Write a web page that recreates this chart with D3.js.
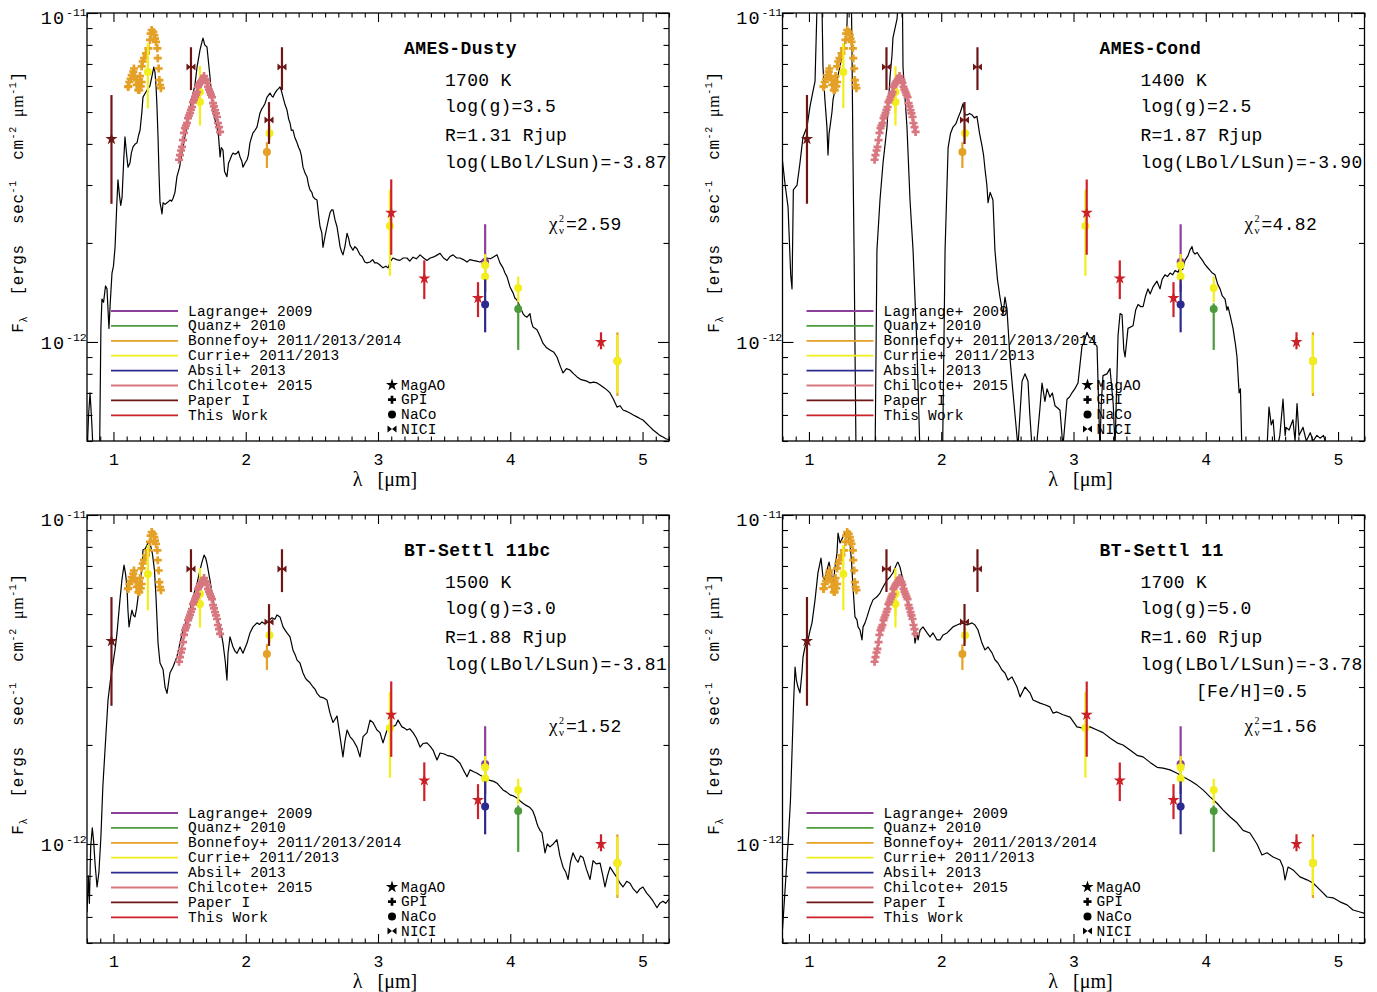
<!DOCTYPE html>
<html><head><meta charset="utf-8">
<script src="https://cdn.jsdelivr.net/npm/d3@7"></script>
<style>body{margin:0;background:#fff}svg{display:block}text{white-space:pre}</style>
</head><body>
<svg id="c" width="1377" height="992"></svg>
<script>
// ---------------- DATA (flux in units of 1e-12 erg s^-1 cm^-2 um^-1) ----------------
const dustySpec=[[0.800,0.45],[0.812,0.60],[0.823,0.70],[0.835,0.58],[0.848,0.45],[0.895,0.45],[0.905,1.10],[0.913,1.35],[0.925,1.32],[0.940,1.48],[0.951,1.45],[0.966,1.10],[0.975,1.30],[0.989,1.62],[1.000,1.70],[1.012,1.94],[1.025,2.6],[1.034,3.11],[1.045,2.8],[1.055,2.6],[1.065,2.75],[1.078,3.6],[1.087,4.20],[1.100,3.7],[1.110,3.40],[1.125,3.5],[1.135,3.75],[1.148,3.92],[1.165,4.0],[1.178,4.03],[1.190,4.25],[1.201,4.4],[1.215,5.0],[1.223,5.55],[1.240,5.7],[1.254,5.83],[1.276,6.0],[1.290,6.4],[1.305,6.85],[1.314,6.6],[1.322,6.0],[1.329,5.2],[1.337,4.2],[1.345,3.2],[1.352,2.65],[1.360,2.55],[1.367,2.45],[1.375,2.65],[1.390,2.62],[1.405,2.65],[1.420,2.68],[1.427,2.70],[1.440,2.68],[1.450,2.73],[1.465,2.85],[1.480,3.18],[1.500,3.4],[1.518,3.75],[1.540,4.2],[1.556,4.5],[1.575,5.0],[1.594,5.55],[1.615,6.0],[1.632,6.85],[1.654,7.71],[1.670,8.2],[1.677,8.39],[1.690,8.0],[1.707,7.88],[1.720,7.0],[1.730,6.39],[1.742,5.6],[1.753,5.07],[1.770,4.7],[1.783,4.50],[1.795,4.2],[1.806,3.65],[1.815,3.9],[1.828,3.83],[1.840,3.3],[1.858,3.18],[1.870,3.5],[1.881,3.58],[1.895,3.7],[1.904,3.75],[1.920,3.72],[1.934,3.75],[1.945,3.8],[1.957,3.65],[1.970,3.55],[1.979,3.40],[1.995,3.5],[2.010,3.58],[2.020,3.7],[2.032,4.03],[2.045,4.2],[2.055,4.32],[2.070,4.4],[2.085,4.50],[2.100,4.8],[2.108,4.97],[2.120,5.1],[2.131,5.18],[2.145,5.3],[2.161,5.55],[2.184,5.71],[2.195,5.6],[2.206,5.55],[2.220,5.7],[2.236,5.83],[2.250,5.9],[2.259,5.96],[2.270,5.8],[2.282,5.55],[2.295,5.3],[2.312,5.07],[2.325,4.75],[2.335,4.63],[2.345,4.4],[2.357,4.41],[2.370,4.2],[2.388,4.03],[2.400,3.9],[2.410,3.83],[2.420,3.7],[2.433,3.40],[2.450,3.25],[2.463,3.18],[2.475,3.0],[2.486,2.90],[2.500,2.85],[2.509,2.76],[2.525,2.72],[2.539,2.70],[2.550,2.45],[2.562,2.24],[2.575,2.15],[2.584,1.94],[2.600,2.1],[2.614,2.24],[2.625,2.35],[2.637,2.47],[2.650,2.52],[2.660,2.52],[2.675,2.35],[2.690,2.24],[2.705,2.05],[2.713,1.95],[2.725,1.88],[2.735,1.84],[2.750,1.95],[2.766,2.14],[2.780,2.05],[2.788,1.97],[2.811,1.90],[2.825,1.95],[2.841,1.92],[2.864,1.84],[2.880,1.82],[2.900,1.75],[2.917,1.74],[2.940,1.75],[2.960,1.78],[2.975,1.74],[2.992,1.74],[3.010,1.72],[3.038,1.68],[3.060,1.70],[3.076,1.68],[3.095,1.76],[3.113,1.80],[3.140,1.78],[3.166,1.77],[3.190,1.80],[3.219,1.80],[3.240,1.76],[3.265,1.81],[3.290,1.79],[3.318,1.84],[3.345,1.80],[3.370,1.77],[3.395,1.80],[3.416,1.81],[3.440,1.83],[3.469,1.86],[3.495,1.80],[3.522,1.77],[3.545,1.82],[3.567,1.84],[3.595,1.80],[3.620,1.80],[3.645,1.78],[3.673,1.75],[3.695,1.78],[3.718,1.77],[3.745,1.76],[3.771,1.75],[3.800,1.78],[3.824,1.80],[3.850,1.79],[3.870,1.81],[3.900,1.84],[3.922,1.74],[3.945,1.68],[3.960,1.62],[3.975,1.58],[3.998,1.47],[4.021,1.41],[4.035,1.36],[4.051,1.34],[4.074,1.28],[4.096,1.22],[4.110,1.20],[4.127,1.19],[4.149,1.22],[4.160,1.15],[4.172,1.11],[4.202,1.09],[4.225,1.04],[4.248,0.99],[4.275,0.96],[4.300,0.946],[4.330,0.93],[4.353,0.90],[4.380,0.84],[4.399,0.805],[4.425,0.83],[4.451,0.822],[4.480,0.80],[4.505,0.783],[4.530,0.77],[4.550,0.766],[4.580,0.76],[4.603,0.751],[4.630,0.755],[4.656,0.751],[4.680,0.74],[4.701,0.730],[4.730,0.715],[4.754,0.70],[4.780,0.67],[4.807,0.634],[4.830,0.64],[4.852,0.621],[4.880,0.615],[4.905,0.608],[4.930,0.60],[4.958,0.592],[4.980,0.585],[5.003,0.579],[5.030,0.565],[5.056,0.552],[5.080,0.54],[5.109,0.529],[5.130,0.52],[5.155,0.514],[5.175,0.508],[5.200,0.505]];

const condSpec=[[0.800,3.55],[0.820,3.0],[0.842,2.57],[0.862,1.6],[0.872,1.45],[0.882,2.9],[0.910,3.0],[0.932,3.5],[0.955,4.2],[0.985,4.5],[1.008,5.2],[1.031,5.8],[1.046,6.2],[1.055,8.5],[1.061,10.5],[1.068,13],[1.095,13],[1.106,6.85],[1.120,5.5],[1.136,4.5],[1.144,3.7],[1.152,4.3],[1.159,4.5],[1.174,5.0],[1.182,5.45],[1.212,6.25],[1.235,6.9],[1.257,7.7],[1.280,8.5],[1.288,9.3],[1.295,13],[1.318,13],[1.325,8.0],[1.333,3.6],[1.341,1.9],[1.356,0.45],[1.500,0.45],[1.514,1.9],[1.537,2.7],[1.560,3.5],[1.590,4.5],[1.613,6.4],[1.628,7.45],[1.635,8.4],[1.666,9.6],[1.688,13],[1.705,13],[1.711,6.85],[1.741,4.5],[1.764,2.7],[1.787,1.9],[1.815,1.0],[1.840,0.45],[2.010,0.45],[2.029,1.9],[2.052,3.9],[2.070,4.3],[2.089,4.5],[2.110,4.6],[2.127,4.8],[2.145,5.0],[2.165,5.3],[2.180,4.9],[2.195,4.9],[2.215,4.95],[2.233,4.9],[2.250,4.8],[2.270,4.85],[2.290,4.3],[2.308,3.95],[2.320,3.7],[2.331,3.35],[2.345,3.0],[2.354,2.65],[2.370,2.85],[2.391,2.7],[2.406,1.9],[2.425,1.55],[2.444,1.37],[2.467,1.21],[2.482,1.37],[2.497,1.26],[2.520,0.89],[2.540,0.72],[2.558,0.60],[2.580,0.48],[2.595,0.6],[2.611,0.76],[2.633,0.80],[2.656,0.76],[2.670,0.6],[2.686,0.48],[2.720,0.48],[2.745,0.62],[2.762,0.75],[2.784,0.66],[2.800,0.72],[2.822,0.68],[2.840,0.70],[2.860,0.64],[2.880,0.63],[2.898,0.62],[2.920,0.48],[2.951,0.67],[2.970,0.68],[2.988,0.70],[3.010,0.72],[3.034,0.75],[3.064,0.97],[3.080,1.0],[3.102,1.07],[3.120,1.03],[3.140,1.03],[3.160,0.99],[3.178,0.97],[3.195,0.55],[3.200,0.48],[3.210,0.65],[3.223,0.79],[3.253,0.80],[3.276,0.83],[3.300,0.65],[3.314,0.48],[3.325,0.7],[3.337,1.05],[3.352,1.22],[3.367,1.21],[3.380,0.95],[3.390,0.90],[3.412,1.10],[3.450,1.12],[3.470,1.25],[3.488,1.30],[3.510,1.28],[3.526,1.28],[3.545,1.38],[3.563,1.45],[3.580,1.40],[3.601,1.47],[3.631,1.53],[3.654,1.45],[3.670,1.55],[3.692,1.60],[3.710,1.58],[3.730,1.62],[3.750,1.60],[3.768,1.65],[3.790,1.63],[3.805,1.68],[3.825,1.66],[3.843,1.77],[3.866,1.83],[3.880,1.90],[3.896,1.95],[3.905,1.88],[3.919,1.85],[3.935,1.87],[3.957,1.81],[3.975,1.77],[3.994,1.72],[4.010,1.69],[4.032,1.65],[4.050,1.62],[4.070,1.60],[4.090,1.50],[4.108,1.45],[4.125,1.38],[4.146,1.35],[4.160,1.25],[4.168,1.28],[4.185,1.20],[4.206,1.10],[4.225,0.98],[4.236,0.90],[4.252,0.70],[4.262,0.72],[4.274,0.45],[4.460,0.45],[4.478,0.634],[4.495,0.56],[4.509,0.58],[4.530,0.45],[4.560,0.52],[4.584,0.67],[4.600,0.52],[4.607,0.55],[4.630,0.54],[4.659,0.58],[4.675,0.50],[4.690,0.65],[4.705,0.52],[4.735,0.55],[4.760,0.50],[4.790,0.53],[4.811,0.50],[4.840,0.52],[4.864,0.51],[4.890,0.52],[4.917,0.48],[4.950,0.45],[5.200,0.45]];

const settlBcSpec=[[0.800,0.62],[0.810,0.80],[0.818,0.66],[0.828,0.98],[0.840,1.12],[0.850,1.02],[0.862,0.86],[0.876,0.74],[0.890,0.82],[0.905,1.05],[0.920,1.50],[0.940,2.05],[0.959,2.74],[0.975,3.1],[0.997,3.55],[1.012,3.9],[1.027,4.38],[1.049,5.51],[1.065,6.4],[1.080,7.04],[1.092,6.6],[1.102,6.04],[1.110,5.1],[1.118,4.57],[1.130,4.9],[1.140,5.14],[1.152,4.95],[1.163,4.90],[1.175,5.2],[1.186,5.63],[1.200,6.2],[1.216,6.94],[1.223,7.83],[1.240,7.9],[1.254,8.11],[1.268,8.3],[1.280,8.1],[1.295,7.6],[1.310,6.8],[1.322,5.6],[1.337,4.08],[1.352,3.55],[1.375,3.39],[1.390,3.0],[1.405,2.87],[1.427,3.31],[1.450,3.45],[1.480,3.71],[1.503,4.08],[1.526,4.48],[1.556,4.81],[1.579,5.14],[1.601,5.63],[1.632,6.2],[1.654,6.8],[1.670,7.2],[1.685,7.55],[1.697,7.4],[1.707,7.13],[1.730,6.33],[1.753,5.51],[1.783,4.90],[1.806,4.57],[1.828,4.08],[1.845,3.6],[1.858,3.15],[1.866,3.8],[1.881,4.26],[1.904,3.97],[1.920,3.85],[1.934,3.80],[1.957,3.97],[1.979,3.80],[2.010,4.08],[2.032,4.38],[2.055,4.57],[2.085,4.70],[2.105,4.65],[2.123,4.73],[2.140,4.68],[2.161,4.73],[2.180,4.80],[2.199,4.87],[2.220,4.82],[2.236,4.97],[2.259,4.90],[2.282,4.57],[2.300,4.45],[2.312,4.38],[2.335,4.26],[2.357,3.89],[2.375,3.75],[2.388,3.62],[2.410,3.55],[2.433,3.31],[2.450,3.2],[2.463,3.15],[2.486,3.09],[2.509,3.0],[2.525,2.95],[2.539,2.87],[2.562,2.80],[2.590,2.78],[2.614,2.74],[2.637,2.50],[2.660,2.34],[2.690,2.45],[2.713,2.12],[2.735,1.84],[2.750,2.05],[2.766,2.22],[2.788,2.12],[2.811,2.07],[2.841,1.97],[2.864,1.84],[2.887,2.12],[2.917,2.18],[2.940,2.38],[2.962,2.34],[2.992,2.22],[3.015,2.18],[3.038,2.03],[3.068,2.22],[3.091,2.25],[3.113,2.27],[3.135,2.30],[3.151,2.38],[3.181,2.27],[3.200,2.25],[3.219,2.22],[3.240,2.24],[3.265,2.18],[3.290,2.10],[3.318,1.97],[3.340,2.02],[3.370,2.03],[3.395,1.98],[3.416,1.93],[3.446,1.80],[3.469,1.89],[3.495,1.88],[3.522,1.86],[3.545,1.85],[3.567,1.84],[3.595,1.80],[3.620,1.76],[3.645,1.68],[3.673,1.60],[3.696,1.68],[3.720,1.66],[3.749,1.64],[3.770,1.62],[3.794,1.60],[3.820,1.58],[3.847,1.56],[3.875,1.55],[3.900,1.53],[3.920,1.50],[3.945,1.46],[3.970,1.44],[3.998,1.41],[4.025,1.40],[4.051,1.38],[4.075,1.35],[4.096,1.33],[4.120,1.31],[4.149,1.29],[4.170,1.26],[4.187,1.21],[4.200,1.16],[4.210,1.13],[4.225,1.10],[4.240,1.08],[4.263,0.94],[4.280,1.0],[4.300,0.98],[4.325,1.0],[4.353,1.03],[4.375,0.92],[4.399,0.85],[4.420,0.82],[4.437,0.78],[4.455,0.88],[4.474,0.94],[4.495,0.90],[4.512,0.88],[4.530,0.92],[4.550,0.91],[4.575,0.84],[4.603,0.78],[4.626,0.89],[4.650,0.87],[4.679,0.875],[4.700,0.80],[4.716,0.74],[4.735,0.80],[4.754,0.85],[4.780,0.82],[4.807,0.79],[4.830,0.76],[4.852,0.74],[4.880,0.77],[4.905,0.76],[4.930,0.73],[4.958,0.71],[4.980,0.73],[5.003,0.74],[5.030,0.71],[5.056,0.69],[5.080,0.67],[5.109,0.64],[5.130,0.66],[5.155,0.67],[5.175,0.66],[5.200,0.68]];

const settlSpec=[[0.800,0.55],[0.815,0.68],[0.830,0.85],[0.845,1.05],[0.860,1.35],[0.872,1.9],[0.884,2.7],[0.895,3.45],[0.905,3.15],[0.917,3.0],[0.932,2.88],[0.947,3.31],[0.955,3.70],[0.970,3.97],[0.993,4.17],[1.008,4.45],[1.023,4.70],[1.046,5.52],[1.068,6.67],[1.091,7.40],[1.106,6.48],[1.121,6.34],[1.136,6.80],[1.152,7.19],[1.174,6.48],[1.182,6.04],[1.197,6.95],[1.212,7.66],[1.220,8.81],[1.235,8.22],[1.257,8.57],[1.275,8.9],[1.288,8.81],[1.310,8.22],[1.322,7.2],[1.333,6.04],[1.348,4.90],[1.363,4.80],[1.371,4.57],[1.386,4.47],[1.401,4.17],[1.409,4.57],[1.424,4.70],[1.439,4.90],[1.462,5.25],[1.484,5.52],[1.514,5.64],[1.537,5.79],[1.560,6.04],[1.590,6.34],[1.613,6.48],[1.635,6.67],[1.666,7.14],[1.673,7.19],[1.688,6.95],[1.711,6.34],[1.741,5.52],[1.764,4.90],[1.787,4.70],[1.802,4.08],[1.817,4.38],[1.825,4.17],[1.840,4.47],[1.862,4.57],[1.893,4.38],[1.915,4.26],[1.938,4.38],[1.968,4.17],[1.991,4.17],[2.014,4.32],[2.044,4.38],[2.066,4.47],[2.089,4.57],[2.119,4.63],[2.157,4.70],[2.195,4.63],[2.233,4.70],[2.255,4.63],[2.278,4.47],[2.308,4.08],[2.331,3.89],[2.354,3.97],[2.384,3.81],[2.406,3.63],[2.429,3.55],[2.459,3.38],[2.482,3.31],[2.505,3.15],[2.535,3.22],[2.573,3.0],[2.596,2.80],[2.633,3.0],[2.671,2.88],[2.694,2.74],[2.747,2.68],[2.784,2.65],[2.822,2.61],[2.845,2.50],[2.875,2.52],[2.921,2.47],[2.974,2.43],[3.026,2.27],[3.072,2.25],[3.125,2.27],[3.178,2.22],[3.223,2.18],[3.276,2.10],[3.329,2.03],[3.374,2.00],[3.427,1.93],[3.480,1.86],[3.526,1.84],[3.579,1.77],[3.632,1.71],[3.677,1.70],[3.730,1.68],[3.783,1.64],[3.828,1.60],[3.881,1.56],[3.934,1.51],[3.979,1.46],[4.032,1.39],[4.085,1.33],[4.130,1.27],[4.183,1.21],[4.236,1.16],[4.282,1.10],[4.334,1.08],[4.387,1.0],[4.425,0.926],[4.463,0.94],[4.509,0.913],[4.561,0.894],[4.584,0.851],[4.599,0.778],[4.622,0.851],[4.660,0.834],[4.712,0.794],[4.765,0.778],[4.811,0.761],[4.864,0.725],[4.917,0.690],[4.962,0.686],[5.015,0.667],[5.068,0.653],[5.113,0.630],[5.166,0.621],[5.200,0.615]];

// photometry: [lambda, flux, fluxLow, fluxHigh, instrument]
const lagrangePhot=[[3.81,1.75,1.42,2.28,"NaCo"]];
const quanzPhot=[[4.06,1.26,0.946,1.31,"NaCo"]];
const bonnefoyPhot=[[2.16,3.78,3.38,4.05,"NaCo"],[4.81,0.875,0.685,1.07,"NaCo"]];
const curriePhot=[[1.26,6.62,5.13,8.1,"NaCo"],[1.654,5.75,4.95,6.9,"NaCo"],[1.654,5.36,4.55,6.2,"NaCo"],[2.18,4.31,4.1,4.55,"NaCo"],[3.09,2.25,1.59,2.9,"NaCo"],[3.81,1.71,1.6,1.85,"NaCo"],[3.81,1.58,1.5,1.68,"NaCo"],[4.06,1.46,1.32,1.58,"NaCo"],[4.81,0.875,0.70,1.05,"NaCo"]];
const absilPhot=[[3.81,1.30,1.07,1.55,"NaCo"]];
const paperIPhot=[[0.985,4.14,2.63,5.63,"MagAO"],[1.586,6.85,5.83,7.87,"NICI"],[2.176,4.73,4.0,5.36,"NICI"],[2.274,6.85,5.83,7.87,"NICI"]];
const thisWorkPhot=[[3.10,2.47,1.84,3.12,"MagAO"],[3.35,1.56,1.35,1.77,"MagAO"],[3.756,1.36,1.19,1.52,"MagAO"],[4.686,1.0,0.95,1.07,"MagAO"]];
// GPI spectra
const bonnefoyGPI=[[1.110,5.96],[1.112,5.98],[1.120,6.17],[1.130,6.31],[1.138,6.47],[1.150,6.63],[1.155,6.78],[1.163,6.39],[1.176,6.25],[1.176,6.04],[1.188,6.09],[1.188,5.83],[1.195,5.83],[1.201,6.43],[1.206,5.98],[1.213,6.17],[1.213,6.88],[1.221,7.12],[1.231,7.29],[1.246,7.54],[1.264,7.81],[1.276,8.28],[1.281,8.66],[1.289,8.88],[1.301,8.76],[1.309,8.57],[1.314,8.36],[1.322,8.17],[1.332,7.81],[1.335,7.29],[1.342,6.78],[1.347,6.25],[1.352,6.04],[1.359,5.91]];
const chilcoteGPI=[[1.496,3.58],[1.503,3.70],[1.511,3.82],[1.518,3.92],[1.526,4.11],[1.533,4.32],[1.541,4.47],[1.548,4.55],[1.556,4.63],[1.564,4.79],[1.571,4.88],[1.579,4.97],[1.586,5.08],[1.594,5.18],[1.601,5.36],[1.609,5.45],[1.617,5.55],[1.624,5.65],[1.632,5.75],[1.639,5.96],[1.647,6.05],[1.654,6.13],[1.662,6.2],[1.669,6.25],[1.677,6.33],[1.685,6.43],[1.692,6.29],[1.700,6.25],[1.707,6.13],[1.715,5.96],[1.722,5.85],[1.730,5.75],[1.737,5.65],[1.745,5.55],[1.753,5.32],[1.760,5.2],[1.768,5.07],[1.775,4.95],[1.783,4.83],[1.790,4.63],[1.798,4.5],[1.806,4.35]];

const modelNames=["AMES-Dusty","AMES-Cond","BT-Settl 11bc","BT-Settl 11"];
const teffLabels=["1700 K","1400 K","1500 K","1700 K"];
const loggLabels=["log(g)=3.5","log(g)=2.5","log(g)=3.0","log(g)=5.0"];
const radiusLabels=["R=1.31 Rjup","R=1.87 Rjup","R=1.88 Rjup","R=1.60 Rjup"];
const lbolLabels=["log(LBol/LSun)=-3.87","log(LBol/LSun)=-3.90","log(LBol/LSun)=-3.81","log(LBol/LSun)=-3.78"];
const fehLabels=["","","","[Fe/H]=0.5"];
const chi2Labels=["2.59","4.82","1.52","1.56"];

const xTicksMajor=[1,2,3,4,5];
const xTickLabels=["1","2","3","4","5"];
const yTicksMajor=[1,10];
const yTickLabels=[["10","-12"],["10","-11"]];
const yTicksMinor=[0.5,0.6,0.7,0.8,0.9,2,3,4,5,6,7,8,9];

const legendLabels=["Lagrange+ 2009","Quanz+ 2010","Bonnefoy+ 2011/2013/2014","Currie+ 2011/2013","Absil+ 2013","Chilcote+ 2015","Paper I","This Work"];
const legendColors=["#8e3f9c","#4b9b3d","#e4a126","#f2ee1c","#2c2a8e","#d8777f","#6e1616","#cc2129"];
const instrumentLabels=["MagAO","GPI","NaCo","NICI"];

// ---------------- DRAWING ----------------
const MONO="'Liberation Mono','DejaVu Sans Mono',monospace";
const SERIF="'Liberation Serif','DejaVu Serif',serif";
const PW=582, PH=428;
const origins=[[87,13],[782.5,13],[87,515],[782.5,515]];
const spectra=[dustySpec,condSpec,settlBcSpec,settlSpec];
const svg=d3.select("#c");

const bowtie="M-4.5,-3.5L0,0L-4.5,3.5ZM4.5,-3.5L0,0L4.5,3.5Z";
function marker(sel,inst,color){
  if(inst==="MagAO") sel.append("path").attr("d",d3.symbol(d3.symbolStar,46)()).attr("fill",color);
  else if(inst==="NICI") sel.append("path").attr("d",bowtie).attr("fill",color);
  else if(inst==="GPI") sel.append("path").attr("d",d3.symbol(d3.symbolCross,36)()).attr("fill",color);
  else sel.append("circle").attr("r",4).attr("fill",color);
}

origins.forEach((o,i)=>{
  const g=svg.append("g").attr("transform",`translate(${o[0]},${o[1]})`);
  const x=d3.scaleLinear().domain([0.8,5.2]).range([0,PW]);
  const y=d3.scaleLog().domain([0.5,10]).range([PH,0]);
  const cid="clip"+i;
  g.append("clipPath").attr("id",cid).append("rect").attr("width",PW).attr("height",PH);
  const inner=g.append("g").attr("clip-path",`url(#${cid})`);

  // model spectrum
  inner.append("path").datum(spectra[i])
    .attr("d",d3.line().x(d=>x(d[0])).y(d=>y(d[1])))
    .attr("fill","none").attr("stroke","#000").attr("stroke-width",1.2).attr("stroke-linejoin","round");

  const sets=[[lagrangePhot,0],[quanzPhot,1],[bonnefoyPhot,2],[curriePhot,3],[absilPhot,4],[paperIPhot,6],[thisWorkPhot,7]];
  const drawPoint=(d,col)=>{
    inner.append("line").attr("x1",x(d[0])).attr("x2",x(d[0])).attr("y1",y(d[2])).attr("y2",y(d[3]))
      .attr("stroke",col).attr("stroke-width",2.2);
    const m=inner.append("g").attr("transform",`translate(${x(d[0])},${y(d[1])})`);
    marker(m,d[4],col);
  };
  sets.slice(0,3).forEach(([arr,ci])=>arr.forEach(d=>drawPoint(d,legendColors[ci])));
  bonnefoyGPI.forEach(d=>{
    const m=inner.append("g").attr("transform",`translate(${x(d[0])},${y(d[1])})`);
    marker(m,"GPI",legendColors[2]);
  });
  sets.slice(3,5).forEach(([arr,ci])=>arr.forEach(d=>drawPoint(d,legendColors[ci])));
  chilcoteGPI.forEach(d=>{
    const m=inner.append("g").attr("transform",`translate(${x(d[0])},${y(d[1])})`);
    marker(m,"GPI",legendColors[5]);
  });
  sets.slice(5).forEach(([arr,ci])=>arr.forEach(d=>drawPoint(d,legendColors[ci])));

  // axes (ticks inward)
  const xMinor=d3.range(8,53).map(v=>v/10).filter(v=>!xTicksMajor.includes(v));
  const strip=s=>s.select(".domain").remove();
  g.append("g").attr("transform",`translate(0,${PH})`).call(d3.axisBottom(x).tickValues(xMinor).tickSize(-4.5).tickFormat("")).call(strip);
  g.append("g").call(d3.axisTop(x).tickValues(xMinor).tickSize(-4.5).tickFormat("")).call(strip);
  g.append("g").call(d3.axisTop(x).tickValues(xTicksMajor).tickSize(-9).tickFormat("")).call(strip);
  const xb=g.append("g").attr("transform",`translate(0,${PH})`)
    .call(d3.axisBottom(x).tickValues(xTicksMajor).tickSize(-9).tickPadding(12).tickFormat((d,k)=>xTickLabels[k])).call(strip);
  xb.selectAll("text").attr("font-family",MONO).attr("font-size",16.5).attr("fill","#000");
  g.append("g").call(d3.axisLeft(y).tickValues(yTicksMinor).tickSize(-5.5).tickFormat("")).call(strip);
  g.append("g").attr("transform",`translate(${PW},0)`).call(d3.axisRight(y).tickValues(yTicksMinor).tickSize(-5.5).tickFormat("")).call(strip);
  g.append("g").call(d3.axisLeft(y).tickValues(yTicksMajor).tickSize(-11).tickFormat("")).call(strip);
  g.append("g").attr("transform",`translate(${PW},0)`).call(d3.axisRight(y).tickValues(yTicksMajor).tickSize(-11).tickFormat("")).call(strip);
  g.selectAll(".tick line").attr("stroke","#000").attr("stroke-width",1.1);

  yTicksMajor.forEach((v,k)=>{
    const yy=Math.max(y(v),4)+7;
    g.append("text").attr("x",-22).attr("y",yy).attr("text-anchor","end")
      .attr("font-family",MONO).attr("font-size",18.5).attr("letter-spacing",1).text(yTickLabels[k][0]);
    g.append("text").attr("x",-21).attr("y",yy-8).attr("font-family",MONO).attr("font-size",11.5).text(yTickLabels[k][1]);
  });

  g.append("rect").attr("width",PW).attr("height",PH).attr("fill","none").attr("stroke","#000").attr("stroke-width",1.3);

  // axis titles
  const yt=g.append("text").attr("transform",`translate(-64,${PH/2-25}) rotate(-90)`).attr("text-anchor","middle")
    .attr("font-family",MONO).attr("font-size",16).attr("letter-spacing",0.6);
  yt.append("tspan").text("F");
  yt.append("tspan").attr("font-size",10).attr("dy",4).text("λ");
  yt.append("tspan").attr("dy",-4).text("  [ergs  sec");
  yt.append("tspan").attr("font-size",10).attr("dy",-7).text("-1");
  yt.append("tspan").attr("dy",7).text("  cm");
  yt.append("tspan").attr("font-size",10).attr("dy",-7).text("-2");
  yt.append("tspan").attr("dy",7).attr("font-family",SERIF).text("  μm");
  yt.append("tspan").attr("font-size",10).attr("dy",-7).text("-1");
  yt.append("tspan").attr("dy",7).text("]");

  g.append("text").attr("x",x(3.0)+7).attr("y",PH+45).attr("text-anchor","middle")
    .attr("font-family",SERIF).attr("font-size",20).text("λ   [μm]");

  // annotations
  const ann=(tx,ty,s,bold)=>g.append("text").attr("x",tx).attr("y",ty).attr("font-family",MONO)
    .attr("font-size",18).attr("letter-spacing",bold?0.5:0.3).attr("font-weight",bold?"bold":"normal").text(s);
  ann(317,41,modelNames[i],true);
  ann(358,73,teffLabels[i]);
  ann(358,99,loggLabels[i]);
  ann(358,128,radiusLabels[i]);
  ann(358,155,lbolLabels[i]);
  if(fehLabels[i]) ann(413.5,182,fehLabels[i]);
  const cx=462, cy=217;
  g.append("text").attr("x",cx).attr("y",cy).attr("font-family",SERIF).attr("font-size",19).text("χ");
  g.append("text").attr("x",cx+10).attr("y",cy-8).attr("font-family",SERIF).attr("font-size",10).text("2");
  g.append("text").attr("x",cx+10).attr("y",cy+4).attr("font-family",SERIF).attr("font-size",11).text("ν");
  g.append("text").attr("x",cx+17).attr("y",cy).attr("font-family",MONO).attr("font-size",18).attr("letter-spacing",0.3).text("="+chi2Labels[i]);

  // legend
  legendLabels.forEach((lab,k)=>{
    const ly=298+k*14.9;
    g.append("line").attr("x1",24).attr("x2",91).attr("y1",ly).attr("y2",ly).attr("stroke",legendColors[k]).attr("stroke-width",1.8);
    g.append("text").attr("x",101).attr("y",ly+4.5).attr("font-family",MONO).attr("font-size",14.5).attr("letter-spacing",0.2).text(lab);
  });
  instrumentLabels.forEach((lab,k)=>{
    const ly=372+k*14.7;
    const m=g.append("g").attr("transform",`translate(305,${ly})`);
    marker(m,lab,"#000");
    g.append("text").attr("x",314).attr("y",ly+4.5).attr("font-family",MONO).attr("font-size",14.5).attr("letter-spacing",0.2).text(lab);
  });
});
</script>
</body></html>
